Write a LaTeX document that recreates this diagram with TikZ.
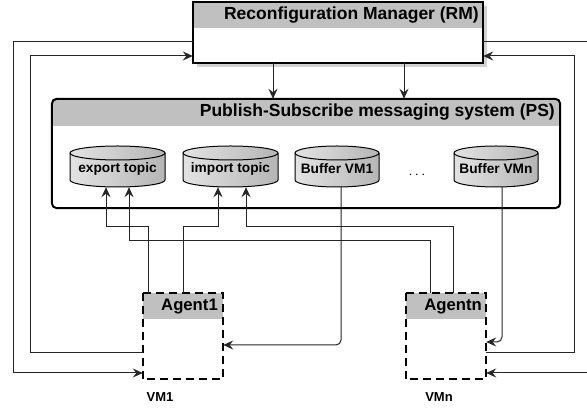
\documentclass[tikz,border=0pt]{standalone}
\usepackage{fontspec}
\setmainfont{Liberation Sans}
\usetikzlibrary{arrows.meta,calc}
\definecolor{hdr}{HTML}{C0C0C0}
\newcommand\cylbody[2]{%
  \draw[cylline, left color=gray!22, right color=gray!58]
    ({#1-#2},256) -- ({#1-#2},229)
    arc[start angle=180,end angle=360,x radius=#2pt,y radius=7pt]
    -- ({#1+#2},256)
    arc[start angle=0,end angle=180,x radius=#2pt,y radius=7pt] -- cycle;
  \draw[cylline] ({#1-#2},256) arc[start angle=180,end angle=360,x radius=#2pt,y radius=7pt];
}
\begin{document}
\begin{tikzpicture}[x=1pt,y=1pt,
  conn/.style={draw=black!85,line width=1pt},
  arr/.style={conn,-{Stealth[length=10pt,width=9pt,inset=3.5pt]}},
  thickbox/.style={draw=black,line width=2pt},
  dashbox/.style={draw=black,line width=2.5pt,dash pattern=on 8pt off 5pt},
  cylline/.style={draw=black,line width=1pt},
  area/.style={rectangle,inner sep=0pt},
  hdrtxt/.style={font=\fontsize{17.5}{20}\selectfont\bfseries,anchor=east,inner sep=0pt},
  agtxt/.style={font=\fontsize{16.7}{19}\selectfont\bfseries,anchor=east,inner sep=0pt},
  cyltxt/.style={area,font=\fontsize{13.7}{16}\selectfont\bfseries},
  vmtxt/.style={font=\fontsize{13}{15}\selectfont\bfseries,inner sep=0pt}]
\useasboundingbox (0,0) rectangle (587,409);
\clip (0,0) rectangle (587,409);

% Reconfiguration Manager
\fill[gray!35] (197,342) rectangle (487,403);
\node[area,fill=white,minimum width=290pt,minimum height=61pt] (rm) at (338,376.5) {};
\fill[hdr] (rm.north west) rectangle ([yshift=-26pt]rm.north east);
\draw[thickbox] (rm.north west) rectangle (rm.south east);
\node[hdrtxt] (rmt) at (479,394) {Reconfiguration Manager (RM)};

% Publish-Subscribe system
\node[area,minimum width=508pt,minimum height=109pt] (ps) at (306,255.5) {};
\begin{scope}
  \clip[rounded corners=5pt] (ps.south west) rectangle (ps.north east);
  \fill[white] (ps.south west) rectangle (ps.north east);
  \fill[hdr] ([yshift=-27pt]ps.north west) rectangle (ps.north east);
\end{scope}
\draw[thickbox,rounded corners=5pt] (ps.south west) rectangle (ps.north east);
\node[hdrtxt] (pst) at (555,296.5) {Publish-Subscribe messaging system (PS)};

% cylinders
\cylbody{117.5}{47.5}
\cylbody{230.5}{47.5}
\cylbody{337}{42}
\cylbody{496}{42}
\node[cyltxt,minimum width=95pt,minimum height=36pt] (export) at (117.5,240) {export topic};
\node[cyltxt,minimum width=95pt,minimum height=36pt] (import) at (230.5,240) {import topic};
\node[cyltxt,minimum width=84pt,minimum height=36pt] (bvm1) at (337,240) {Buffer VM1};
\node[cyltxt,minimum width=84pt,minimum height=36pt] (bvmn) at (496,240) {Buffer VMn};
\node[font=\fontsize{14}{16}\selectfont] (dots) at (417,234) {$\cdots$};

% agents
\node[area,minimum width=80pt,minimum height=86pt] (agent1) at (183,73) {};
\fill[hdr] (agent1.north west) rectangle ([yshift=-26pt]agent1.north east);
\draw[dashbox] (agent1.north west) rectangle (agent1.south east);
\node[agtxt] (a1t) at (218,102) {Agent1};
\node[area,minimum width=80pt,minimum height=86pt] (agentn) at (446,73) {};
\fill[hdr] (agentn.north west) rectangle ([yshift=-26pt]agentn.north east);
\draw[dashbox] (agentn.north west) rectangle (agentn.south east);
\node[agtxt] (ant) at (482,102) {Agentn};
\node[vmtxt] (vm1) at (160,12) {VM1};
\node[vmtxt] (vmn) at (439,12) {VMn};

% RM <-> agents
\draw[arr] ([yshift=-9.5pt]rm.west) -| (13,36) -- ([yshift=-37pt]agent1.west);
\draw[arr] ([yshift=-17pt]agent1.west) -| (30,353) -- ([yshift=-23.5pt]rm.west);
\draw[arr] ([yshift=-9.5pt]rm.east) -| (592,36) -- ([yshift=-37pt]agentn.east);
\draw[arr] ([yshift=-17pt]agentn.east) -| (574,353) -- ([yshift=-23.5pt]rm.east);

% RM -> PS
\draw[arr] ([xshift=-65pt]rm.south) -- ([xshift=-65pt]rm.south |- ps.north);
\draw[arr] ([xshift=66pt]rm.south) -- ([xshift=66pt]rm.south |- ps.north);

% buffers -> agents
\draw[arr,rounded corners=5pt] ([xshift=4pt]bvm1.south) |- ([yshift=-9pt]agent1.east);
\draw[arr,rounded corners=5pt] ([xshift=6pt]bvmn.south) |- ([yshift=-6pt]agentn.east);

% agents -> topics
\draw[arr] ([xshift=-35pt]agent1.north) |- (106,182) -- ([xshift=-11.5pt]export.south);
\draw[arr] (agent1.north) |- (218,182) -- ([xshift=-12.5pt]import.south);
\draw[arr] ([xshift=7pt]agentn.north) |- (246,182) -- ([xshift=15.5pt]import.south);
\draw[arr] ([xshift=-16pt]agentn.north) |- (129,168) -- ([xshift=11.5pt]export.south);
\end{tikzpicture}
\end{document}
